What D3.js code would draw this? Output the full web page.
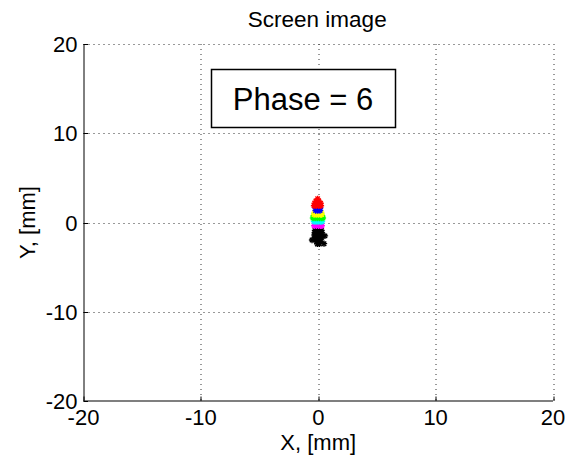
<!DOCTYPE html>
<html>
<head>
<meta charset="utf-8">
<script src="https://cdn.jsdelivr.net/npm/d3@7"></script>
<style>
  body { margin: 0; background: #fff; }
  svg { display: block; font-family: "Liberation Sans", Arial, sans-serif; }
</style>
</head>
<body>
<div id="chart"></div>
<script>
const W = 566, H = 457;
const margin = { top: 44, right: 13, bottom: 56, left: 83.5 };

const titleText = "Screen image";
const xLabel = "X, [mm]";
const yLabel = "Y, [mm]";
const phaseText = "Phase = 6";
const xTicks = [-20, -10, 0, 10, 20];
const yTicks = [-20, -10, 0, 10, 20];

// spot positions [x, y] in mm, one array per colour
const blackPts = [
    [-0.28, -0.9], [-0.08, -0.9], [0.12, -0.9], [0.28, -0.9],
    [-0.3, -1.15], [-0.1, -1.15], [0.1, -1.15], [0.3, -1.15],
    [-0.32, -1.4], [-0.12, -1.4], [0.08, -1.4], [0.25, -1.4], [0.57, -1.5],
    [-0.28, -1.65], [-0.08, -1.65], [0.12, -1.65], [0.3, -1.65],
    [-0.2, -1.9], [0, -1.9], [0.18, -1.9], [-0.53, -1.96],
    [-0.15, -2.15], [0.05, -2.15], [0.2, -2.15],
    [-0.08, -2.4], [0.1, -2.4], [0.49, -2.37]
];
const magentaPts = [
    [-0.3, -0.1], [-0.1, -0.1], [0.1, -0.1], [0.28, -0.1],
    [-0.34, -0.36], [-0.16, -0.36], [0.02, -0.36], [0.18, -0.36], [0.3, -0.36]
];
const cyanPts = [
    [-0.3, 0.35], [-0.1, 0.35], [0.1, 0.35], [0.28, 0.35],
    [-0.36, 0.11], [-0.18, 0.11], [0, 0.11], [0.18, 0.11], [0.32, 0.11]
];
const greenPts = [
    [-0.38, 0.75], [-0.15, 0.75], [0.1, 0.75], [0.32, 0.75],
    [-0.45, 0.5], [-0.27, 0.5], [-0.09, 0.5], [0.09, 0.5], [0.25, 0.5], [0.4, 0.5]
];
const yellowPts = [
    [-0.3, 1.15], [-0.1, 1.15], [0.1, 1.15], [0.25, 1.15],
    [-0.36, 0.9], [-0.18, 0.9], [0, 0.9], [0.18, 0.9], [0.29, 0.9]
];
const bluePts = [
    [-0.22, 1.6], [-0.04, 1.6], [0.15, 1.6],
    [-0.22, 1.34], [-0.04, 1.34], [0.15, 1.34]
];
const redPts = [
    [-0.05, 2.65],
    [-0.2, 2.4], [0.05, 2.4],
    [-0.3, 2.15], [-0.1, 2.15], [0.1, 2.15], [0.2, 2.15],
    [-0.36, 1.88], [-0.16, 1.88], [0.04, 1.88], [0.23, 1.88]
];

// drawn bottom band first, so each upper band lies over the one below
const groups = [
    { pts: blackPts, color: "#000000" },
    { pts: magentaPts, color: "#ff00ff" },
    { pts: cyanPts, color: "#00ffff" },
    { pts: greenPts, color: "#00ff00" },
    { pts: yellowPts, color: "#ffff00" },
    { pts: bluePts, color: "#0000ff" },
    { pts: redPts, color: "#ff0000" }
];

const width = W - margin.left - margin.right;
const height = H - margin.top - margin.bottom;

const x = d3.scaleLinear().domain([-20, 20]).range([0, width]);
const y = d3.scaleLinear().domain([-20, 20]).range([height, 0]);

const svg = d3.select("#chart").append("svg")
    .attr("width", W)
    .attr("height", H);

svg.append("rect").attr("width", W).attr("height", H).attr("fill", "#fff");

const g = svg.append("g")
    .attr("transform", "translate(" + margin.left + "," + margin.top + ")");

// dotted grid
g.selectAll(".gx").data(xTicks.filter(d => d !== -20)).enter()
    .append("line")
    .attr("x1", d => Math.round(x(d)) + 0.5).attr("x2", d => Math.round(x(d)) + 0.5)
    .attr("y1", 0).attr("y2", height)
    .attr("stroke", "#333").attr("stroke-width", 1)
    .attr("stroke-dasharray", "1,4");
g.selectAll(".gy").data(yTicks.filter(d => d !== -20)).enter()
    .append("line")
    .attr("y1", d => Math.round(y(d)) + 0.5).attr("y2", d => Math.round(y(d)) + 0.5)
    .attr("x1", 0).attr("x2", width)
    .attr("stroke", "#333").attr("stroke-width", 1)
    .attr("stroke-dasharray", "1,4");

// 8-ray star like the matlab '*' marker
const star = {
    draw(ctx, size) {
        const r = Math.sqrt(size) / 2;
        const q = r * Math.SQRT1_2;
        ctx.moveTo(-r, 0); ctx.lineTo(r, 0);
        ctx.moveTo(0, -r); ctx.lineTo(0, r);
        ctx.moveTo(-q, -q); ctx.lineTo(q, q);
        ctx.moveTo(-q, q); ctx.lineTo(q, -q);
    }
};
const sym = d3.symbol().type(star).size(40);

groups.forEach(grp => {
    g.append("g").selectAll("path")
        .data(grp.pts)
        .enter()
        .append("path")
        .attr("d", sym)
        .attr("transform", d => "translate(" + x(d[0]) + "," + y(d[1]) + ")")
        .attr("fill", "none")
        .attr("stroke", grp.color)
        .attr("stroke-width", 1.4);
});

// axes (box off: only left and bottom)
g.append("line")
    .attr("x1", 0.5).attr("x2", 0.5).attr("y1", 0).attr("y2", height)
    .attr("stroke", "#000").attr("stroke-width", 1);
g.append("line")
    .attr("x1", 0).attr("x2", width).attr("y1", height).attr("y2", height)
    .attr("stroke", "#555").attr("stroke-width", 1.6);

g.selectAll(".tx").data(xTicks).enter()
    .append("line")
    .attr("x1", d => Math.round(x(d)) + 0.5).attr("x2", d => Math.round(x(d)) + 0.5)
    .attr("y1", height).attr("y2", height - 4.5)
    .attr("stroke", "#000");
g.selectAll(".ty").data(yTicks).enter()
    .append("line")
    .attr("y1", d => Math.round(y(d)) + 0.5).attr("y2", d => Math.round(y(d)) + 0.5)
    .attr("x1", 0).attr("x2", 4.5)
    .attr("stroke", "#000");

g.selectAll(".lx").data(xTicks).enter()
    .append("text")
    .attr("x", d => x(d))
    .attr("y", height + 24)
    .attr("text-anchor", "middle")
    .attr("font-size", 22)
    .attr("fill", "#000")
    .text(d => d);
g.selectAll(".ly").data(yTicks).enter()
    .append("text")
    .attr("x", -6)
    .attr("y", d => y(d) + 8)
    .attr("text-anchor", "end")
    .attr("font-size", 22)
    .attr("fill", "#000")
    .text(d => d);

// title and axis labels
svg.append("text")
    .attr("x", margin.left + width / 2 - 1)
    .attr("y", 27)
    .attr("text-anchor", "middle")
    .attr("font-size", 22.5)
    .text(titleText);
svg.append("text")
    .attr("x", margin.left + width / 2)
    .attr("y", 450)
    .attr("text-anchor", "middle")
    .attr("font-size", 22)
    .text(xLabel);
svg.append("text")
    .attr("transform", "translate(35," + (margin.top + height / 2) + ") rotate(-90)")
    .attr("text-anchor", "middle")
    .attr("font-size", 22)
    .text(yLabel);

// phase annotation box
svg.append("rect")
    .attr("x", 211.5).attr("y", 69.5)
    .attr("width", 184).attr("height", 58)
    .attr("fill", "#fff")
    .attr("stroke", "#000")
    .attr("stroke-width", 1.5);
svg.append("text")
    .attr("x", 303)
    .attr("y", 110)
    .attr("text-anchor", "middle")
    .attr("font-size", 31)
    .text(phaseText);
</script>
</body>
</html>
